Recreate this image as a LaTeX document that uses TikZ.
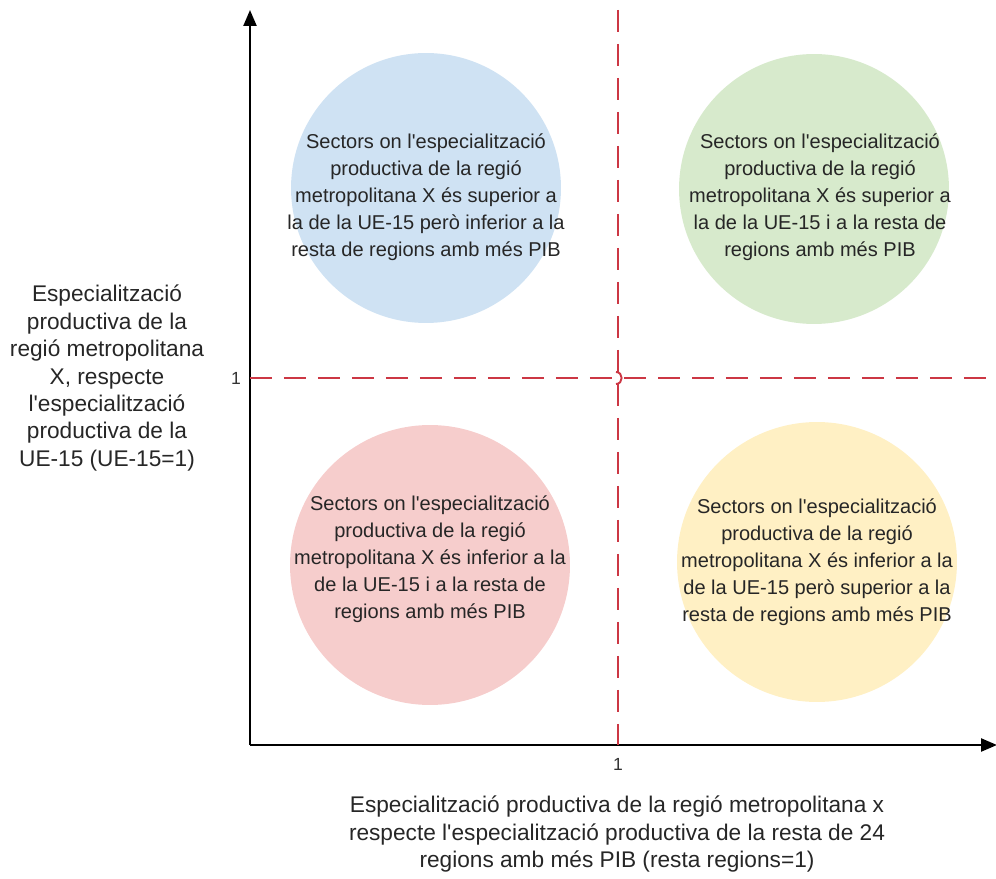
\documentclass[tikz,border=0pt]{standalone}
\usepackage{fontspec}
\setmainfont{Liberation Sans}[Ligatures=TeXOff]
\usepackage{xcolor}
\usetikzlibrary{arrows.meta}

\definecolor{dashred}{RGB}{204,55,68}
\definecolor{qblue}{RGB}{207,226,243}
\definecolor{qgreen}{RGB}{215,234,204}
\definecolor{qred}{RGB}{246,205,204}
\definecolor{qyellow}{RGB}{255,240,196}

\begin{document}
\begin{tikzpicture}[
    x=0.02cm, y=-0.02cm,
    quadrant/.style={circle, draw=none, minimum size=5.4cm, inner sep=0pt},
    quadtext/.style={align=center, inner sep=0pt, font=\fontsize{11.4}{15.4}\selectfont, text=black!85},
    axislabel/.style={align=center, font=\fontsize{12.9}{15.6}\selectfont, text=black!85},
    tick/.style={font=\fontsize{10}{12}\selectfont, text=black!80},
    axis/.style={-{Triangle[length=0.32cm,width=0.26cm]}, line width=1.3pt},
    divider/.style={dashred, line width=1.1pt, dash pattern=on 0.44cm off 0.24cm}
]
    \useasboundingbox (0,0) rectangle (996,878);

    % quadrants
    \node[quadrant, fill=qblue] (topleft) at (426,188) {};
    \node[quadrant, fill=qgreen] (topright) at (814,189) {};
    \node[quadrant, fill=qred, minimum size=5.6cm] (bottomleft) at (430,565) {};
    \node[quadrant, fill=qyellow, minimum size=5.6cm] (bottomright) at (817,562) {};

    \node[quadtext] (topleft text) at (426,197) {Sectors on l'especialització\\productiva de la regió\\metropolitana X és superior a\\la de la UE-15 però inferior a la\\resta de regions amb més PIB};
    \node[quadtext] (topright text) at (820,197) {Sectors on l'especialització\\productiva de la regió\\metropolitana X és superior a\\la de la UE-15 i a la resta de\\regions amb més PIB};
    \node[quadtext] (bottomleft text) at (430,559) {Sectors on l'especialització\\productiva de la regió\\metropolitana X és inferior a la\\de la UE-15 i a la resta de\\regions amb més PIB};
    \node[quadtext] (bottomright text) at (817,562) {Sectors on l'especialització\\productiva de la regió\\metropolitana X és inferior a la\\de la UE-15 però superior a la\\resta de regions amb més PIB};

    % axes
    \coordinate (origin) at (250,745);
    \coordinate (ytop) at (250,10);
    \coordinate (xend) at (997,745);
    \draw[axis] (origin) -- (ytop);
    \draw[axis] (origin) -- (xend);

    % dividers
    \coordinate (vtop) at (618,10);
    \coordinate (vbottom) at (618,745);
    \coordinate (hleft) at (250,378);
    \coordinate (hjumpa) at (613,378);
    \coordinate (hjumpb) at (624,378);
    \coordinate (hright) at (1000,378);
    \draw[divider] (vtop) -- (vbottom);
    \draw[divider] (hleft) -- (hjumpa);
    \draw[dashred, line width=1.1pt] (616,372) to[out=0, in=0, looseness=1.6] (616,384);
    \draw[divider] (hjumpb) -- (hright);

    % ticks
    \node[tick, anchor=east] (ytick) at (247,378) {1};
    \node[tick] (xtick) at (618,764) {1};

    % axis labels
    \node[axislabel] (ylabel) at (107,378) {Especialització\\productiva de la\\regió metropolitana\\X, respecte\\l'especialització\\productiva de la\\UE-15 (UE-15=1)};
    \node[axislabel] (xlabel) at (617,834) {Especialització productiva de la regió metropolitana x\\respecte l'especialització productiva de la resta de 24\\regions amb més PIB (resta regions=1)};
\end{tikzpicture}
\end{document}
